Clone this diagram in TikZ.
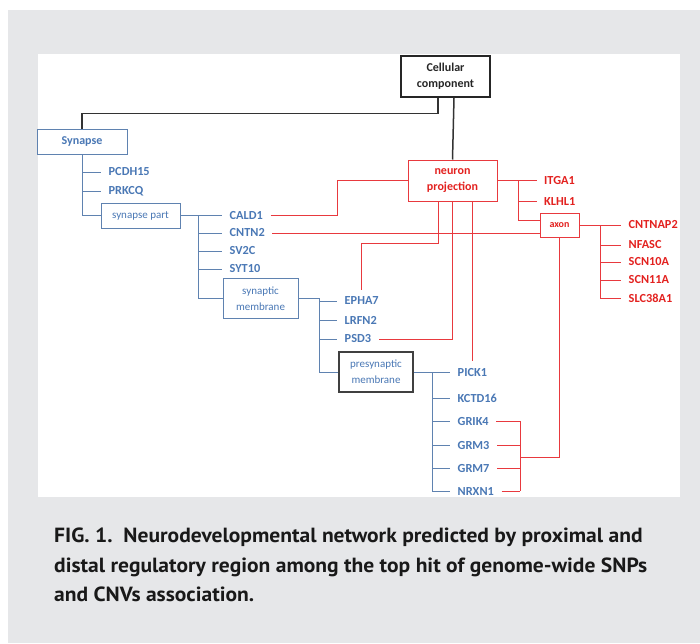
\documentclass[tikz,border=0pt]{standalone}
\usepackage{fontspec}
\setmainfont{Carlito}
\newfontfamily\capfont[FakeStretch=1.05]{PT Sans}
\usetikzlibrary{positioning, calc}
\definecolor{goblue}{HTML}{4A78B5}
\definecolor{golineblue}{HTML}{5F82B0}
\definecolor{gored}{HTML}{E3211F}
\definecolor{golinered}{HTML}{E8393E}
\definecolor{pagegray}{HTML}{E6E7E9}
\tikzset{
        go-box/.style={
            draw=golineblue, line width=1pt, fill=white, align=center, inner sep=0pt,
            text=goblue, font=\fontsize{11}{16}\selectfont
        },
        go-box-bold/.style={
            go-box, font=\bfseries\fontsize{12}{16}\selectfont
        },
        root-box/.style={
            go-box-bold, draw=black!85, line width=1.6pt, text=black!85,
            minimum width=89pt, minimum height=41pt
        },
        red-box/.style={
            go-box-bold, draw=golinered, text=gored
        },
        gene/.style={
            anchor=west, inner xsep=7.5pt, inner ysep=7pt, text=goblue,
            font=\bfseries\fontsize{12.3}{14}\selectfont
        },
        gene-red/.style={gene, text=gored},
        blue-line/.style={draw=golineblue, line width=1pt},
        red-line/.style={draw=golinered, line width=1pt},
        black-line/.style={draw=black!80, line width=1.5pt},
        caption/.style={
            anchor=north west, align=left, inner sep=0pt, text=black!90,
            font=\capfont\bfseries\fontsize{20.5}{29.5}\selectfont
        },
}

\begin{document}
\begin{tikzpicture}[x=1pt, y=-1pt]

        % PAGE AND PANEL
        \useasboundingbox (0,0) rectangle (700,643);
        \fill[white]    (0,0)   rectangle (700,643);
        \fill[pagegray] (8,10)  rectangle (700,643);
        \fill[white]    (38,54) rectangle (680,497);

        % DRAW BOXES
        \node[root-box]                                           (CC)  at (445.5,76.5)   {Cellular\\component};
        \node[go-box-bold, minimum width=90pt, minimum height=25pt] (SYN) at (82,141.5)   {Synapse};
        \node[go-box, minimum width=79pt, minimum height=25pt]    (SP)  at ($(SYN)+(58.5,74)$)   {synapse part};
        \node[go-box, minimum width=75pt, minimum height=40pt]    (SM)  at ($(SP)+(120,83)$)     {synaptic\\membrane};
        \node[go-box, minimum width=74pt, minimum height=40pt, draw=black!75, line width=1.3pt]
                                                                  (PM)  at ($(SM)+(115.5,73.5)$) {presynaptic\\membrane};
        \node[red-box, minimum width=89pt, minimum height=41pt]   (NP)  at (452.5,180.5)  {neuron\\projection};
        \node[red-box, minimum width=39pt, minimum height=24pt, font=\bfseries\fontsize{10}{12}\selectfont]
                                                                  (AX)  at (559.5,225)    {axon};

        % DRAW GENES
        \node[gene]     (PCDH15)  at ($(SYN)+(19,30.5)$)   {PCDH15};
        \node[gene]     (PRKCQ)   at ($(SYN)+(19,49.5)$)   {PRKCQ};
        \node[gene]     (CALD1)   at ($(SP)+(81.5,0)$)     {CALD1};
        \node[gene]     (CNTN2)   at ($(SP)+(81.5,17.5)$)  {CNTN2};
        \node[gene]     (SV2C)    at ($(SP)+(81.5,35.5)$)  {SV2C};
        \node[gene]     (SYT10)   at ($(SP)+(81.5,53.5)$)  {SYT10};
        \node[gene]     (EPHA7)   at ($(SM)+(76.5,2.5)$)   {EPHA7};
        \node[gene]     (LRFN2)   at ($(SM)+(76.5,21.5)$)  {LRFN2};
        \node[gene]     (PSD3)    at ($(SM)+(76.5,40.5)$)  {PSD3};
        \node[gene]     (PICK1)   at ($(PM)+(74,0)$)       {PICK1};
        \node[gene]     (KCTD16)  at ($(PM)+(74,26)$)      {KCTD16};
        \node[gene]     (GRIK4)   at ($(PM)+(74,49)$)      {GRIK4};
        \node[gene]     (GRM3)    at ($(PM)+(74,73)$)      {GRM3};
        \node[gene]     (GRM7)    at ($(PM)+(74,96)$)      {GRM7};
        \node[gene]     (NRXN1)   at ($(PM)+(74,119)$)     {NRXN1};
        \node[gene-red] (ITGA1)   at ($(NP)+(84,0)$)       {ITGA1};
        \node[gene-red] (KLHL1)   at ($(NP)+(84,20.5)$)    {KLHL1};
        \node[gene-red] (CNTNAP2) at ($(AX)+(61.5,0)$)     {CNTNAP2};
        \node[gene-red] (NFASC)   at ($(AX)+(61.5,20)$)    {NFASC};
        \node[gene-red] (SCN10A)  at ($(AX)+(61.5,37)$)    {SCN10A};
        \node[gene-red] (SCN11A)  at ($(AX)+(61.5,55)$)    {SCN11A};
        \node[gene-red] (SLC38A1) at ($(AX)+(61.5,73)$)    {SLC38A1};

        % TRUNK POINTS
        \coordinate (SPT) at ($(SP.east)+(18,0)$);
        \coordinate (SMT) at ($(SM.east)+(21,0)$);
        \coordinate (PMT) at ($(PM.east)+(19,0)$);
        \coordinate (NPT) at ($(NP.east)+(21,0)$);
        \coordinate (AXT) at ($(AX.east)+(21,0)$);
        \coordinate (EPJ) at ($(EPHA7.north)+(0,-46)$);
        \coordinate (RJ)  at ($(GRM7.west)+(70,-11)$);

        % CONNECT ROOT
        \draw [black-line] ($(CC.south)+(-7.5,0)$) |- ($(SYN.north)+(0,-15)$) -- (SYN.north);
        \draw [black-line] ($(CC.south)+(8.5,0)$) -- (NP.north);

        % CONNECT SYNAPSE TREE
        \draw [blue-line] (SYN.south) |- (SP.west);
        \foreach \g in {PCDH15, PRKCQ}
            \draw [blue-line] (\g.west -| SYN.south) -- (\g.west);
        \draw [blue-line] (SP.east) -- (SPT) |- (SM.west);
        \foreach \g in {CALD1, CNTN2, SV2C, SYT10}
            \draw [blue-line] (\g.west -| SPT) -- (\g.west);
        \draw [blue-line] (SM.east) -- (SMT) |- (PM.west);
        \foreach \g in {EPHA7, LRFN2, PSD3}
            \draw [blue-line] (\g.west -| SMT) -- (\g.west);
        \draw [blue-line] (PM.east) -- (PMT) |- (NRXN1.west);
        \foreach \g in {PICK1, KCTD16, GRIK4, GRM3, GRM7}
            \draw [blue-line] (\g.west -| PMT) -- (\g.west);

        % CONNECT NEURON PROJECTION
        \draw [red-line] (CALD1.east) -| ($(NP.west)+(-70,0)$) -- (NP.west);
        \draw [red-line] (NP.east) -- (ITGA1.west);
        \draw [red-line] (NPT) |- (KLHL1.west);
        \draw [red-line] (NPT) |- ($(AX.west)+(0,-5)$);
        \draw [red-line] ($(NP.south)+(-14.5,0)$) |- (EPJ) -- (EPHA7.north);
        \draw [red-line] (NP.south) |- (PSD3.east);
        \draw [red-line] (PICK1.north |- NP.south) -- (PICK1.north);

        % CONNECT AXON
        \draw [red-line] (CNTN2.east) -- (CNTN2.east -| AX.west);
        \draw [red-line] (AX.east) -- (CNTNAP2.west);
        \draw [red-line] (AXT) |- (SLC38A1.west);
        \foreach \g in {NFASC, SCN10A, SCN11A}
            \draw [red-line] (\g.west -| AXT) -- (\g.west);
        \foreach \g in {GRIK4, GRM3, GRM7, NRXN1}
            \draw [red-line] (\g.east) -- (\g.east -| RJ);
        \draw [red-line] (GRIK4.east -| RJ) -- (NRXN1.east -| RJ);
        \draw [red-line] (RJ) -| (AX.south);

        % CAPTION
        \node[caption] (CAP) at (54,528) {FIG. 1.\ \ Neurodevelopmental network predicted by proximal and\\
            distal regulatory region among the top hit of genome-wide SNPs\\
            and CNVs association.};

\end{tikzpicture}
\end{document}
